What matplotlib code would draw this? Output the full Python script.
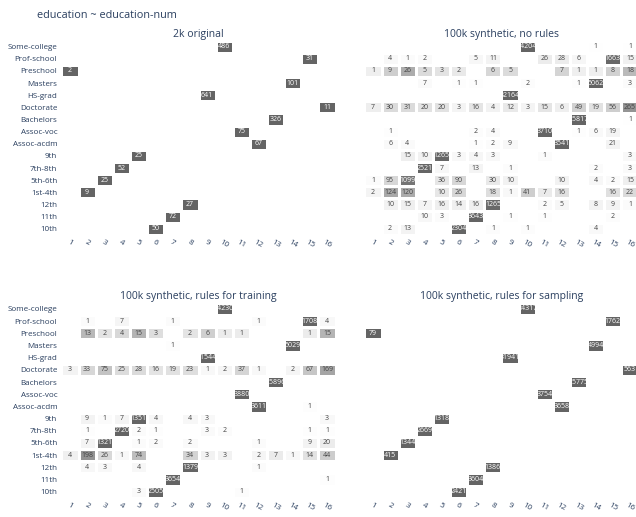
import numpy as np
import matplotlib
matplotlib.use('Agg')
import matplotlib.pyplot as plt
from matplotlib.colors import LinearSegmentedColormap, PowerNorm

plt.rcParams['font.family'] = ['Open Sans', 'DejaVu Sans']

#rows top to bottom, columns are education-num 1..16
education = ['Some-college', 'Prof-school', 'Preschool', 'Masters', 'HS-grad', 'Doctorate',
             'Bachelors', 'Assoc-voc', 'Assoc-acdm', '9th', '7th-8th', '5th-6th',
             '1st-4th', '12th', '11th', '10th']
education_num = [str(i) for i in range(1, 17)]

titles = ['2k original', '100k synthetic, no rules',
          '100k synthetic, rules for training', '100k synthetic, rules for sampling']

original_2k = [
    [0, 0, 0, 0, 0, 0, 0, 0, 0, 486, 0, 0, 0, 0, 0, 0],
    [0, 0, 0, 0, 0, 0, 0, 0, 0, 0, 0, 0, 0, 0, 31, 0],
    [2, 0, 0, 0, 0, 0, 0, 0, 0, 0, 0, 0, 0, 0, 0, 0],
    [0, 0, 0, 0, 0, 0, 0, 0, 0, 0, 0, 0, 0, 101, 0, 0],
    [0, 0, 0, 0, 0, 0, 0, 0, 641, 0, 0, 0, 0, 0, 0, 0],
    [0, 0, 0, 0, 0, 0, 0, 0, 0, 0, 0, 0, 0, 0, 0, 11],
    [0, 0, 0, 0, 0, 0, 0, 0, 0, 0, 0, 0, 326, 0, 0, 0],
    [0, 0, 0, 0, 0, 0, 0, 0, 0, 0, 75, 0, 0, 0, 0, 0],
    [0, 0, 0, 0, 0, 0, 0, 0, 0, 0, 0, 67, 0, 0, 0, 0],
    [0, 0, 0, 0, 25, 0, 0, 0, 0, 0, 0, 0, 0, 0, 0, 0],
    [0, 0, 0, 52, 0, 0, 0, 0, 0, 0, 0, 0, 0, 0, 0, 0],
    [0, 0, 25, 0, 0, 0, 0, 0, 0, 0, 0, 0, 0, 0, 0, 0],
    [0, 9, 0, 0, 0, 0, 0, 0, 0, 0, 0, 0, 0, 0, 0, 0],
    [0, 0, 0, 0, 0, 0, 0, 27, 0, 0, 0, 0, 0, 0, 0, 0],
    [0, 0, 0, 0, 0, 0, 72, 0, 0, 0, 0, 0, 0, 0, 0, 0],
    [0, 0, 0, 0, 0, 50, 0, 0, 0, 0, 0, 0, 0, 0, 0, 0],
]

no_rules = [
    [0, 0, 0, 0, 0, 0, 0, 0, 0, 24204, 0, 0, 0, 1, 0, 1],
    [0, 4, 1, 2, 0, 0, 5, 11, 0, 0, 26, 28, 6, 0, 1663, 15],
    [1, 9, 26, 5, 3, 2, 0, 6, 5, 0, 0, 7, 1, 1, 8, 18],
    [0, 0, 0, 7, 0, 1, 1, 0, 0, 2, 0, 0, 1, 5062, 0, 3],
    [0, 0, 0, 0, 0, 0, 0, 0, 32164, 0, 0, 0, 0, 0, 0, 0],
    [7, 30, 31, 20, 20, 3, 16, 4, 12, 3, 15, 6, 49, 19, 56, 265],
    [0, 0, 0, 0, 0, 0, 0, 0, 0, 0, 0, 0, 15817, 0, 0, 1],
    [0, 1, 0, 0, 0, 0, 2, 4, 0, 0, 3710, 0, 1, 6, 19, 0],
    [0, 6, 4, 0, 0, 0, 1, 2, 9, 0, 0, 3541, 0, 0, 21, 0],
    [0, 0, 15, 10, 1265, 3, 4, 3, 0, 0, 1, 0, 0, 0, 0, 3],
    [0, 0, 0, 2521, 7, 0, 13, 0, 1, 0, 0, 0, 0, 2, 0, 3],
    [1, 95, 1099, 0, 36, 90, 0, 30, 10, 0, 0, 10, 0, 4, 2, 15],
    [2, 124, 120, 0, 10, 26, 0, 18, 1, 41, 7, 16, 0, 0, 16, 22],
    [0, 10, 15, 7, 16, 14, 16, 1265, 0, 0, 2, 5, 0, 8, 9, 1],
    [0, 0, 0, 10, 3, 0, 3643, 0, 1, 0, 1, 0, 0, 0, 2, 0],
    [0, 2, 13, 0, 0, 2304, 0, 1, 0, 1, 0, 0, 0, 4, 0, 0],
]

rules_training = [
    [0, 0, 0, 0, 0, 0, 0, 0, 0, 24230, 0, 0, 0, 0, 0, 0],
    [0, 1, 0, 7, 0, 0, 1, 0, 0, 0, 0, 1, 0, 0, 1708, 4],
    [0, 13, 2, 4, 15, 3, 0, 2, 6, 1, 1, 0, 0, 0, 1, 15],
    [0, 0, 0, 0, 0, 0, 1, 0, 0, 0, 0, 0, 0, 5029, 0, 0],
    [0, 0, 0, 0, 0, 0, 0, 0, 31544, 0, 0, 0, 0, 0, 0, 0],
    [3, 33, 75, 25, 28, 16, 19, 23, 1, 2, 37, 1, 0, 2, 67, 169],
    [0, 0, 0, 0, 0, 0, 0, 0, 0, 0, 0, 0, 15896, 0, 0, 0],
    [0, 0, 0, 0, 0, 0, 0, 0, 0, 0, 3880, 0, 0, 0, 0, 0],
    [0, 0, 0, 0, 0, 0, 0, 0, 0, 0, 0, 3611, 0, 0, 1, 0],
    [0, 9, 1, 7, 1351, 4, 0, 4, 3, 0, 0, 0, 0, 0, 0, 3],
    [0, 1, 0, 2720, 2, 1, 0, 0, 3, 2, 0, 0, 0, 0, 1, 1],
    [0, 7, 1321, 0, 1, 2, 0, 2, 0, 0, 0, 1, 0, 0, 9, 20],
    [4, 198, 26, 1, 74, 0, 0, 34, 3, 3, 0, 2, 7, 1, 14, 44],
    [0, 4, 3, 0, 4, 0, 0, 1379, 0, 0, 0, 1, 0, 0, 0, 0],
    [0, 0, 0, 0, 0, 0, 3654, 0, 0, 0, 0, 0, 0, 0, 0, 1],
    [0, 0, 0, 0, 3, 2505, 0, 0, 0, 0, 1, 0, 0, 0, 0, 0],
]

rules_sampling = [
    [0, 0, 0, 0, 0, 0, 0, 0, 0, 24317, 0, 0, 0, 0, 0, 0],
    [0, 0, 0, 0, 0, 0, 0, 0, 0, 0, 0, 0, 0, 0, 1762, 0],
    [79, 0, 0, 0, 0, 0, 0, 0, 0, 0, 0, 0, 0, 0, 0, 0],
    [0, 0, 0, 0, 0, 0, 0, 0, 0, 0, 0, 0, 0, 4994, 0, 0],
    [0, 0, 0, 0, 0, 0, 0, 0, 31941, 0, 0, 0, 0, 0, 0, 0],
    [0, 0, 0, 0, 0, 0, 0, 0, 0, 0, 0, 0, 0, 0, 0, 563],
    [0, 0, 0, 0, 0, 0, 0, 0, 0, 0, 0, 0, 15775, 0, 0, 0],
    [0, 0, 0, 0, 0, 0, 0, 0, 0, 0, 3754, 0, 0, 0, 0, 0],
    [0, 0, 0, 0, 0, 0, 0, 0, 0, 0, 0, 3658, 0, 0, 0, 0],
    [0, 0, 0, 0, 1318, 0, 0, 0, 0, 0, 0, 0, 0, 0, 0, 0],
    [0, 0, 0, 2669, 0, 0, 0, 0, 0, 0, 0, 0, 0, 0, 0, 0],
    [0, 0, 1344, 0, 0, 0, 0, 0, 0, 0, 0, 0, 0, 0, 0, 0],
    [0, 415, 0, 0, 0, 0, 0, 0, 0, 0, 0, 0, 0, 0, 0, 0],
    [0, 0, 0, 0, 0, 0, 0, 1386, 0, 0, 0, 0, 0, 0, 0, 0],
    [0, 0, 0, 0, 0, 0, 3604, 0, 0, 0, 0, 0, 0, 0, 0, 0],
    [0, 0, 0, 0, 0, 2421, 0, 0, 0, 0, 0, 0, 0, 0, 0, 0],
]

TXT = '#2a3f5f'
cmap = LinearSegmentedColormap.from_list('grey_sc', ['#ffffff', '#646464'])
norm = PowerNorm(gamma=0.5, vmin=0, vmax=1)

W, H = 636, 517
fig = plt.figure(figsize=(W / 100, H / 100), dpi=100)

#axes boxes in pixels (left, top, right, bottom)
boxes = [(61.4, 40.6, 335.6, 234.8), (364.4, 40.6, 638.6, 234.8),
         (61.4, 302.9, 335.6, 497.8), (364.4, 302.9, 638.6, 497.8)]
title_y = [34, 34, 297, 297]

panels = [original_2k, no_rules, rules_training, rules_sampling]

for k, counts in enumerate(panels):
    l, t, r, b = boxes[k]
    ax = fig.add_axes([l / W, 1 - b / H, (r - l) / W, (b - t) / H])
    z = np.array(counts, dtype=float)
    frac = z / z.sum(axis=1, keepdims=True)
    frac = np.ma.masked_where(z == 0, frac)
    ax.pcolormesh(np.arange(17), np.arange(17), frac, cmap=cmap, norm=norm,
                  edgecolors='white', linewidth=0.8)
    for i in range(16):
        for j in range(16):
            if z[i, j] > 0:
                col = 'white' if frac[i, j] > 0.5 else '#444444'
                ax.text(j + 0.5, i + 0.5, str(int(z[i, j])), ha='center', va='center',
                        fontsize=5.0, color=col)
    ax.set_xlim(0, 16)
    ax.set_ylim(16, 0)
    ax.set_xticks(np.arange(16) + 0.5)
    ax.set_xticklabels(education_num, rotation=-30, fontsize=5.8, color=TXT)
    ax.set_yticks(np.arange(16) + 0.5)
    if k % 2 == 0:
        ax.set_yticklabels(education, fontsize=5.8, color=TXT)
    else:
        ax.set_yticklabels([])
    ax.tick_params(length=0, pad=3)
    for s in ax.spines.values():
        s.set_visible(False)
    fig.text((l + r) / 2 / W, 1 - title_y[k] / H, titles[k], ha='center', va='center',
             fontsize=7.5, color=TXT)

fig.text(37 / W, 1 - 15 / H, 'education ~ education-num', ha='left', va='center',
         fontsize=7.8, color=TXT)

fig.savefig('out.png', dpi=100)
